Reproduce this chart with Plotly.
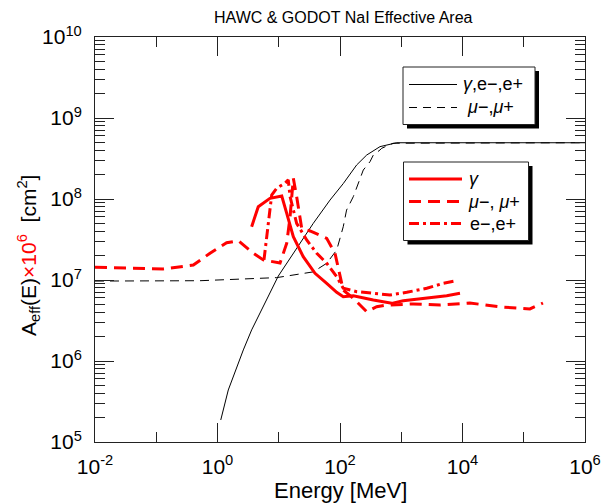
import plotly.graph_objects as go

# ---------------- data ----------------
# HAWC: gamma, e-, e+ (black solid)
hawc_gamma_E = [1.13, 1.5, 2.64, 3.61, 9.84, 36.6, 68.7, 113, 187, 273, 450, 843, 1e6]
hawc_gamma_A = [1.87e5, 4.39e5, 1.37e6, 2.42e6, 1.12e7, 5.0e7, 9.7e7, 1.55e8, 2.63e8,
                3.49e8, 4.43e8, 4.95e8, 4.95e8]

# HAWC: mu-, mu+ (black dashed)
hawc_mu_E = [0.01, 0.518, 9.27, 36.6, 60.7, 88.3, 113, 128, 165, 212, 240, 309, 350, 450, 480, 733, 1e6]
hawc_mu_A = [9.7e6, 9.8e6, 1.07e7, 1.26e7, 1.61e7, 2.34e7, 4.55e7, 7.3e7, 1.07e8, 1.72e8,
             2.28e8, 2.89e8, 3.49e8, 4.03e8, 4.23e8, 4.88e8, 4.95e8]

# GODOT NaI: gamma (red solid)
godot_gamma_E = [3.61, 4.63, 7.19, 11.2, 13.5, 17.3, 25.1, 39.1, 60.7, 88.3, 113, 165,
                 350, 698, 1080, 2610, 5520, 9100]
godot_gamma_A = [4.55e7, 8.04e7, 1.02e8, 1.09e8, 6.65e7, 3.43e7, 1.94e7, 1.21e7, 9.1e6,
                 7.05e6, 6.22e6, 6.4e6, 5.66e6, 5.15e6, 5.55e6, 5.94e6, 6.4e6, 6.86e6]

# GODOT NaI: mu-, mu+ (red dashed)
godot_mu_E = [0.01, 0.13, 0.403, 0.755, 1.41, 2.19, 3.84, 5.6, 10.5, 13.5, 15.3, 17.3,
              19.6, 23.7, 32.4, 60.7, 82.8, 100, 113, 165, 273, 397, 579, 1570, 4300,
              13200, 40900, 126000, 206000]
godot_mu_A = [1.44e7, 1.37e7, 1.53e7, 2.14e7, 2.88e7, 3.05e7, 2.14e7, 1.77e7, 1.62e7,
              2.84e7, 6.03e7, 1.8e8, 1.07e8, 4.35e7, 4.03e7, 3.27e7, 2.14e7, 1.1e7,
              7.5e6, 5.94e6, 4.06e6, 4.68e6, 4.9e6, 5.06e6, 4.9e6, 5.2e6, 4.65e6,
              4.39e6, 5.2e6]

# GODOT NaI: e-, e+ (red dash-dot)
godot_e_E = [5.74, 6.75, 7.67, 9.27, 12.6, 14.3, 15.3, 19.6, 28.6, 41.7, 60.7, 88.3,
             113, 187, 397, 655, 1230, 2610, 4860, 8040]
godot_e_A = [1.77e7, 5.51e7, 1.12e8, 1.36e8, 1.56e8, 1.72e8, 1.07e8, 5.01e7, 3.12e7,
             2.14e7, 1.61e7, 1.1e7, 7.91e6, 7.18e6, 6.71e6, 6.53e6, 7.05e6, 7.91e6,
             9.1e6, 9.8e6]

x_tick_vals = [1e-2, 1e0, 1e2, 1e4, 1e6]
x_tick_text = ["10<sup>-2</sup>", "10<sup>0</sup>", "10<sup>2</sup>", "10<sup>4</sup>", "10<sup>6</sup>"]
x_minor_vals = [1e-1, 1e1, 1e3, 1e5]
y_tick_vals = [1e5, 1e6, 1e7, 1e8, 1e9, 1e10]
y_tick_text = ["10<sup>5</sup>", "10<sup>6</sup>", "10<sup>7</sup>", "10<sup>8</sup>",
               "10<sup>9</sup>", "10<sup>10</sup>"]
y_minor_vals = [k * 10 ** n for n in range(5, 10) for k in range(2, 10)]

title_text = "HAWC &amp; GODOT NaI Effective Area"
legend1_labels = ["<i>γ</i>,e−,e+", "<i>μ</i>−,<i>μ</i>+"]
legend2_labels = ["<i>γ</i>", "<i>μ</i>−, <i>μ</i>+", "e−,e+"]

# ---------------- layout geometry (page pixels) ----------------
PAGE_W, PAGE_H = 610, 504
BODY = 8                       # default page margin of the html body
W, H = PAGE_W - BODY, PAGE_H - BODY
L, R, T, B = 95, 585, 37, 442  # plot area in page pixels
FONT = "Liberation Sans, Arial, Helvetica, sans-serif"
RED = "#ff0000"


def px(x):
    return (x - L) / (R - L)


def py(y):
    return (B - y) / (B - T)


fig = go.Figure()

fig.add_trace(go.Scatter(x=hawc_gamma_E, y=hawc_gamma_A, mode="lines",
                         line=dict(color="black", width=1), showlegend=False))
fig.add_trace(go.Scatter(x=hawc_mu_E, y=hawc_mu_A, mode="lines",
                         line=dict(color="black", width=1, dash="9px,6px"), showlegend=False))
fig.add_trace(go.Scatter(x=godot_gamma_E, y=godot_gamma_A, mode="lines",
                         line=dict(color=RED, width=3), showlegend=False))
fig.add_trace(go.Scatter(x=godot_mu_E, y=godot_mu_A, mode="lines",
                         line=dict(color=RED, width=3, dash="12px,7px"), showlegend=False))
fig.add_trace(go.Scatter(x=godot_e_E, y=godot_e_A, mode="lines",
                         line=dict(color=RED, width=3, dash="10px,4px,3px,4px"), showlegend=False))

axis_common = dict(
    type="log", showgrid=False, zeroline=False, showline=True, linecolor="#222",
    linewidth=1, mirror="allticks", ticks="inside", ticklen=19, tickwidth=1,
    tickcolor="#222", tickfont=dict(family=FONT, size=21, color="black"),
    automargin=False,
)

fig.update_xaxes(range=[-2, 6], tickvals=x_tick_vals, ticktext=x_tick_text,
                 ticklabelstandoff=6,
                 minor=dict(tickvals=x_minor_vals, ticks="inside", ticklen=10,
                            tickcolor="#222", tickwidth=1),
                 **axis_common)
fig.update_yaxes(range=[5, 10], tickvals=y_tick_vals, ticktext=y_tick_text,
                 ticklabelstandoff=8,
                 minor=dict(tickvals=y_minor_vals, ticks="inside", ticklen=10,
                            tickcolor="#222", tickwidth=1),
                 **axis_common)

shapes = []
annotations = []

# legend 1 (HAWC, black)
shapes.append(dict(type="rect", xref="paper", yref="paper", x0=px(407), x1=px(539),
                   y0=py(128.5), y1=py(71), fillcolor="black", line=dict(width=0), layer="above"))
shapes.append(dict(type="rect", xref="paper", yref="paper", x0=px(403), x1=px(535),
                   y0=py(124.5), y1=py(67), fillcolor="white",
                   line=dict(color="#222", width=1), layer="above"))
shapes.append(dict(type="line", xref="paper", yref="paper", x0=px(409), x1=px(457),
                   y0=py(84.5), y1=py(84.5), line=dict(color="black", width=1), layer="above"))
shapes.append(dict(type="line", xref="paper", yref="paper", x0=px(409), x1=px(457),
                   y0=py(107.5), y1=py(107.5), line=dict(color="black", width=1, dash="8px,6px"),
                   layer="above"))
annotations.append(dict(xref="paper", yref="paper", x=px(461), y=py(84.5), text=legend1_labels[0],
                        showarrow=False, xanchor="left", yanchor="middle",
                        font=dict(family=FONT, size=18, color="black")))
annotations.append(dict(xref="paper", yref="paper", x=px(465), y=py(107.5), text=legend1_labels[1],
                        showarrow=False, xanchor="left", yanchor="middle",
                        font=dict(family=FONT, size=18, color="black")))

# legend 2 (GODOT, red)
shapes.append(dict(type="rect", xref="paper", yref="paper", x0=px(407.5), x1=px(532.5),
                   y0=py(244.5), y1=py(166), fillcolor="black", line=dict(width=0), layer="above"))
shapes.append(dict(type="rect", xref="paper", yref="paper", x0=px(403.5), x1=px(528.5),
                   y0=py(240.5), y1=py(162), fillcolor="white",
                   line=dict(color="#222", width=1), layer="above"))
for yy, dash in [(179, "solid"), (201.5, "12px,7px"), (223.5, "10px,4px,3px,4px")]:
    shapes.append(dict(type="line", xref="paper", yref="paper", x0=px(409), x1=px(462),
                       y0=py(yy), y1=py(yy), line=dict(color=RED, width=3, dash=dash),
                       layer="above"))
for yy, xx, txt in [(179, 467, legend2_labels[0]), (201.5, 466, legend2_labels[1]),
                    (223.5, 468, legend2_labels[2])]:
    annotations.append(dict(xref="paper", yref="paper", x=px(xx), y=py(yy), text=txt,
                            showarrow=False, xanchor="left", yanchor="middle",
                            font=dict(family=FONT, size=18, color="black")))

# axis titles
annotations.append(dict(xref="paper", yref="paper", x=px(340), y=py(490), text="Energy [MeV]",
                        showarrow=False, xanchor="center", yanchor="middle",
                        font=dict(family=FONT, size=22, color="black")))
annotations.append(dict(xref="paper", yref="paper", x=px(28), y=py(256),
                        text="A<sub>eff</sub>(E)<span style='color:#ff0000'>×10<sup>6</sup></span>\u00a0\u00a0[cm<sup>2</sup>]",
                        showarrow=False, xanchor="center", yanchor="middle", textangle=-90,
                        font=dict(family=FONT, size=21, color="black")))
# title
annotations.append(dict(xref="paper", yref="paper", x=px(343), y=py(17), text=title_text,
                        showarrow=False, xanchor="center", yanchor="middle",
                        font=dict(family=FONT, size=16, color="black")))

fig.update_layout(
    width=W, height=H,
    margin=dict(l=L - BODY, r=PAGE_W - R, t=T - BODY, b=PAGE_H - B, pad=0),
    paper_bgcolor="white", plot_bgcolor="white",
    shapes=shapes, annotations=annotations, showlegend=False,
    font=dict(family=FONT, color="black"),
)

fig.write_html("out.html")
